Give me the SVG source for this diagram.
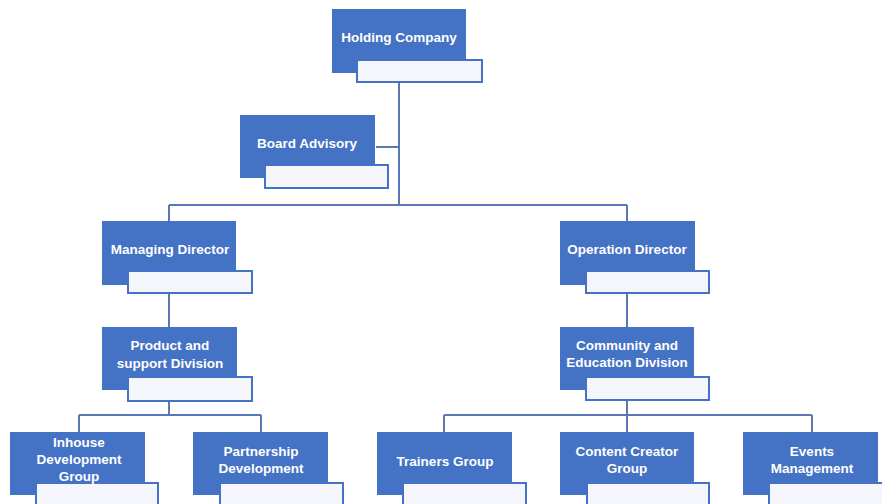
<svg xmlns="http://www.w3.org/2000/svg" width="882" height="504" viewBox="0 0 882 504">
<style>
.b{fill:#4472C4;}
.w{fill:#f4f6fb;stroke:#4472C4;stroke-width:2;}
.t{fill:#ffffff;font-family:"Liberation Sans",Arial,sans-serif;font-weight:bold;font-size:13.5px;text-anchor:middle;}
.c{fill:none;stroke:#5a78b4;stroke-width:2;}
</style>
<rect width="882" height="504" fill="#ffffff"/>
<g id="connectors">
<path class="c" d="M399 82V205M376 147H399M169 205H627M169 205V221M627 205V221M169 293V327M627 293V327M169 401V415M627 401V415M79 415H261M79 415V432M261 415V432M444 415H812M444 415V432M627 415V432M812 415V432"/>
</g>
<g id="holding">
<rect class="b" x="332" y="9" width="134" height="64"/>
<rect class="w" x="357" y="60" width="125" height="22"/>
<text class="t" x="399" y="42">Holding Company</text>
</g>
<g id="board">
<rect class="b" x="240" y="115" width="135" height="63"/>
<rect class="w" x="265" y="165" width="123" height="23"/>
<text class="t" x="307" y="148">Board Advisory</text>
</g>
<g id="managing">
<rect class="b" x="102" y="221" width="134" height="64"/>
<rect class="w" x="128" y="271" width="124" height="22"/>
<text class="t" x="170" y="254">Managing Director</text>
</g>
<g id="operation">
<rect class="b" x="560" y="221" width="135" height="64"/>
<rect class="w" x="586" y="271" width="123" height="22"/>
<text class="t" x="627" y="254">Operation Director</text>
</g>
<g id="product">
<rect class="b" x="102" y="327" width="135" height="63"/>
<rect class="w" x="128" y="377" width="124" height="24"/>
<text class="t" x="170" y="350">Product and</text>
<text class="t" x="170" y="368">support Division</text>
</g>
<g id="community">
<rect class="b" x="560" y="327" width="134" height="63"/>
<rect class="w" x="586" y="377" width="123" height="23"/>
<text class="t" x="627" y="350">Community and</text>
<text class="t" x="627" y="367">Education Division</text>
</g>
<g id="inhouse">
<rect class="b" x="10" y="432" width="135" height="63"/>
<rect class="w" x="36" y="483" width="122" height="24"/>
<text class="t" x="79" y="447">Inhouse</text>
<text class="t" x="79" y="464">Development</text>
<text class="t" x="79" y="481">Group</text>
</g>
<g id="partnership">
<rect class="b" x="193" y="432" width="135" height="63"/>
<rect class="w" x="220" y="483" width="123" height="24"/>
<text class="t" x="261" y="456">Partnership</text>
<text class="t" x="261" y="473">Development</text>
</g>
<g id="trainers">
<rect class="b" x="377" y="432" width="135" height="63"/>
<rect class="w" x="403" y="483" width="123" height="24"/>
<text class="t" x="445" y="466">Trainers Group</text>
</g>
<g id="content">
<rect class="b" x="560" y="432" width="134" height="63"/>
<rect class="w" x="587" y="483" width="122" height="24"/>
<text class="t" x="627" y="456">Content Creator</text>
<text class="t" x="627" y="473">Group</text>
</g>
<g id="events">
<rect class="b" x="743" y="432" width="135" height="63"/>
<rect class="w" x="769" y="483" width="123" height="24"/>
<text class="t" x="812" y="456">Events</text>
<text class="t" x="812" y="473">Management</text>
</g>
</svg>
